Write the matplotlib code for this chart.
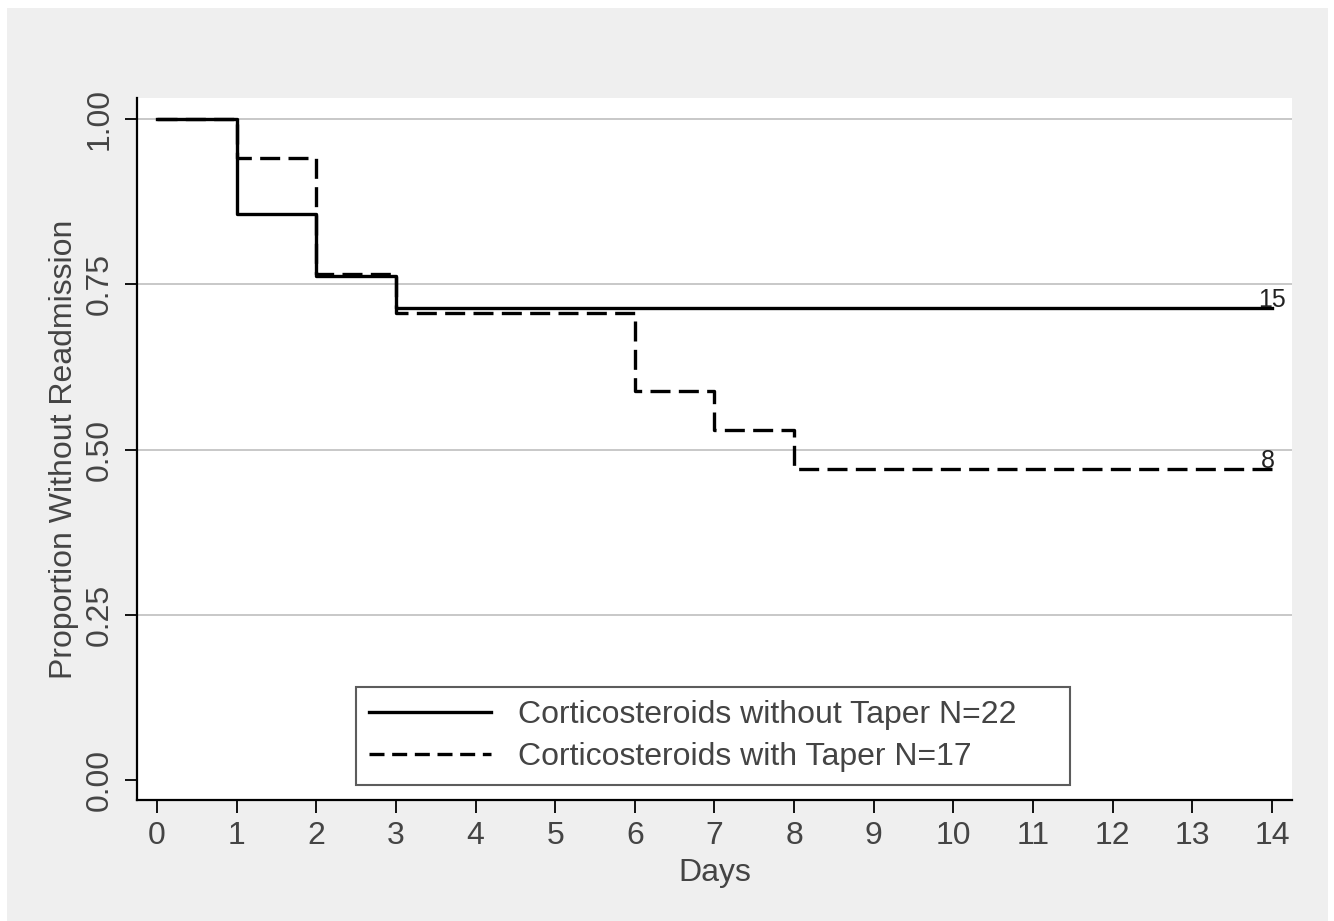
import numpy as np
import matplotlib
matplotlib.use("Agg")
import matplotlib.pyplot as plt
from matplotlib.patches import Rectangle

plt.rcParams['font.family'] = ['Liberation Sans', 'DejaVu Sans']

# Kaplan-Meier steps (time, survival after the step)
no_taper_t = [0, 1, 2, 3, 14]
no_taper_s = [1.0, 0.857, 0.762, 0.714, 0.714]
taper_t = [0, 1, 2, 3, 6, 7, 8, 14]
taper_s = [1.0, 0.941, 0.765, 0.706, 0.588, 0.529, 0.471, 0.471]

labels = ["Corticosteroids without Taper N=22", "Corticosteroids with Taper N=17"]
at_risk_end = ["15", "8"]

xticks = np.arange(0, 15)
yticks = [0.0, 0.25, 0.5, 0.75, 1.0]
yticklabels = ["0.00", "0.25", "0.50", "0.75", "1.00"]

txt = '#444444'
fs = 23

fig = plt.figure(figsize=(13.34, 9.21), dpi=100, facecolor='white')
fig.patches.append(Rectangle((7 / 1334, 0), 1321 / 1334, 913 / 921,
                             transform=fig.transFigure, facecolor='#efefef',
                             edgecolor='none', zorder=-10))

ax = fig.add_axes([137 / 1334, 1 - 800 / 921, 1155 / 1334, 702 / 921])
ax.set_facecolor('white')

ax.step(no_taper_t, no_taper_s, where='post', color='black', lw=2.4,
        label=labels[0], zorder=3)
ax.step(taper_t, taper_s, where='post', color='black', lw=2.4,
        dashes=(6.0, 2.5), label=labels[1], zorder=3)

ax.text(14, no_taper_s[-1] + 0.002, at_risk_end[0], ha='center', va='baseline',
        fontsize=18, color='#222222')
ax.text(13.95, taper_s[-1] + 0.002, at_risk_end[1], ha='center', va='baseline',
        fontsize=18, color='#222222')

ax.set_xlim(-0.25, 14.25)
ax.set_ylim(-0.03, 1.032)

ax.set_xticks(xticks)
ax.set_yticks(yticks)
ax.set_yticklabels(yticklabels, rotation=90, va='center')
for y in yticks[1:]:
    ax.axhline(y, color='#c4c4c4', lw=1.3, zorder=1)

ax.spines['top'].set_visible(False)
ax.spines['right'].set_visible(False)
ax.spines['left'].set_linewidth(1.6)
ax.spines['bottom'].set_linewidth(1.6)
ax.tick_params(axis='both', direction='out', length=9, width=1.3,
               labelsize=fs, labelcolor=txt, pad=6)
ax.tick_params(axis='y', pad=7)

ax.set_xlabel("Days", fontsize=fs, color=txt, labelpad=5)
ax.set_ylabel("Proportion Without Readmission", fontsize=fs, color=txt, labelpad=4)

leg = ax.legend(loc='lower left', bbox_to_anchor=(0.19, 0.021, 0.618, 0.14),
                mode='expand', fontsize=fs, frameon=True, fancybox=False,
                handlelength=3.8, handletextpad=0.85, borderaxespad=0,
                labelspacing=0.4, borderpad=0.4)
leg.get_frame().set_edgecolor('#333333')
leg.get_frame().set_linewidth(1.5)
leg.get_lines()[1].set_dashes((4.5, 2.3))
for t in leg.get_texts():
    t.set_color(txt)

fig.savefig("out.png", dpi=100, facecolor=fig.get_facecolor())
